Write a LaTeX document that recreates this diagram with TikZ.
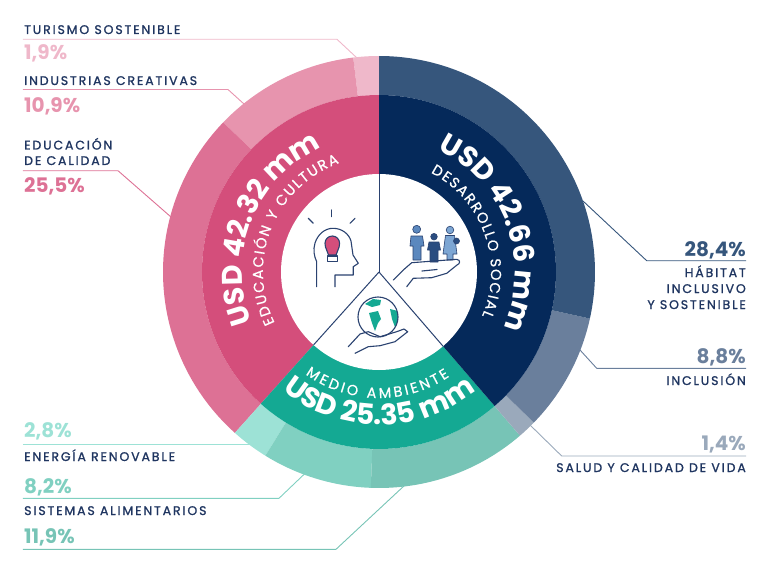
\documentclass[tikz,border=0pt]{standalone}
\usepackage{fontspec}
\setmainfont{Poppins}
\newfontfamily\lblfont[LetterSpace=15,FakeBold=1.2]{Poppins}
\newfontfamily\arcfont[FakeBold=0.6]{Poppins}
\usetikzlibrary{decorations.text}
\definecolor{navytext}{HTML}{1F3560}
\definecolor{pinkmain}{HTML}{D44E7B}
\definecolor{pinkedu}{HTML}{DD7195}
\definecolor{pinkind}{HTML}{E794AE}
\definecolor{pinktur}{HTML}{EFB8CA}
\definecolor{navymain}{HTML}{05295A}
\definecolor{navyhab}{HTML}{36567C}
\definecolor{navyinc}{HTML}{6A7F9C}
\definecolor{navysal}{HTML}{9AA9BB}
\definecolor{tealmain}{HTML}{14A993}
\definecolor{tealene}{HTML}{9DE2D6}
\definecolor{tealsis}{HTML}{80D0C1}
\definecolor{tealali}{HTML}{77C4B6}
\definecolor{iconline}{HTML}{2A4270}
\definecolor{famA}{HTML}{5B88BE}
\definecolor{famB}{HTML}{2A4D80}
\definecolor{famC}{HTML}{7DA6D3}
\begin{document}
\begin{tikzpicture}[x=1pt,y=1pt,
  lead/.style={line width=0.9pt},
  lbl/.style={font=\lblfont\fontsize{12.5}{15}\selectfont, text=navytext, inner sep=0pt},
  pct/.style={font=\bfseries\fontsize{20}{24}\selectfont, inner sep=0pt},
  icon/.style={draw=iconline, line width=1.1pt, line cap=round, line join=round},
  fig/.style={draw=iconline, line width=0.6pt, line join=round}]
\useasboundingbox (-379,-301) rectangle (389,272);
\coordinate (hub) at (0,0);

% leader lines
\coordinate (tur-a) at (-356,232.7);
\coordinate (tur-b) at (-42,232.7);
\coordinate (tur-c) at (-22,214);
\draw[lead, pinktur] (tur-a) -- (tur-b) -- (tur-c);
\coordinate (ind-a) at (-356,182.5);
\coordinate (ind-b) at (-151,182.5);
\coordinate (ind-c) at (-135,168);
\draw[lead, pinkind] (ind-a) -- (ind-b) -- (ind-c);
\coordinate (edu-a) at (-356,101.3);
\coordinate (edu-b) at (-261,101.3);
\coordinate (edu-c) at (-208,55);
\draw[lead, pinkedu] (edu-a) -- (edu-b) -- (edu-c);
\coordinate (ene-a) at (-356,-172);
\coordinate (ene-b) at (-125,-172);
\draw[lead, tealene] (ene-a) -- (ene-b);
\coordinate (sis-a) at (-356,-226.3);
\coordinate (sis-b) at (-100,-226.3);
\coordinate (sis-c) at (-73,-200.5);
\draw[lead, tealsis] (sis-a) -- (sis-b) -- (sis-c);
\coordinate (ali-a) at (-356,-277.3);
\coordinate (ali-b) at (-43,-277.3);
\coordinate (ali-c) at (26,-213);
\draw[lead, tealali] (ali-a) -- (ali-b) -- (ali-c);
\coordinate (hab-a) at (367,11.3);
\coordinate (hab-b) at (267.7,11.3);
\coordinate (hab-c) at (204,71);
\draw[lead, navyhab] (hab-a) -- (hab-b) -- (hab-c);
\coordinate (inc-a) at (367,-96.3);
\coordinate (inc-b) at (217.7,-96.3);
\coordinate (inc-c) at (201,-78);
\draw[lead, navyinc] (inc-a) -- (inc-b) -- (inc-c);
\coordinate (sal-a) at (367,-184);
\coordinate (sal-b) at (182.7,-184);
\coordinate (sal-c) at (150,-152);
\draw[lead, navysal] (sal-a) -- (sal-b) -- (sal-c);

% outer ring
\fill[pinktur] (90:177) arc (90:96.85:177) -- (96.85:216) arc (96.85:90:216) -- cycle;
\fill[pinkind] (96.85:177) arc (96.85:136.17:177) -- (136.17:216) arc (136.17:96.85:216) -- cycle;
\fill[pinkedu] (136.17:177) arc (136.17:228.15:177) -- (228.15:216) arc (228.15:136.17:216) -- cycle;
\fill[tealene] (228.15:177) arc (228.15:238.25:177) -- (238.25:216) arc (238.25:228.15:216) -- cycle;
\fill[tealsis] (238.25:177) arc (238.25:267.83:177) -- (267.83:216) arc (267.83:238.25:216) -- cycle;
\fill[tealali] (267.83:177) arc (267.83:310.75:177) -- (310.75:216) arc (310.75:267.83:216) -- cycle;
\fill[navysal] (310.75:177) arc (310.75:315.8:177) -- (315.8:216) arc (315.8:310.75:216) -- cycle;
\fill[navyinc] (315.8:177) arc (315.8:347.54:177) -- (347.54:216) arc (347.54:315.8:216) -- cycle;
\fill[navyhab] (347.54:177) arc (347.54:450:177) -- (450:216) arc (450:347.54:216) -- cycle;

% inner ring
\fill[pinkmain] (hub) -- (90:177) arc (90:228.1:177) -- cycle;
\fill[tealmain] (hub) -- (228.1:177) arc (228.1:310.8:177) -- cycle;
\fill[navymain] (hub) -- (310.8:177) arc (310.8:450:177) -- cycle;
\fill[white] (hub) circle (98);
\draw[iconline, line width=1pt] (hub) -- (90:98);
\draw[iconline, line width=1pt] (hub) -- (228.1:98);
\draw[iconline, line width=1pt] (hub) -- (310.8:98);

% ring texts
\path[decorate, decoration={text along path, text color=white, text align=center,
  text={|\bfseries\fontsize{28.5}{32}\selectfont|USD 42.32 mm}}] (200:137) arc (200:116:137);
\path[decorate, decoration={text along path, text color=white, text align=fit to path,
  text={|\arcfont\fontsize{14.5}{16}\selectfont|EDUCACIÓN Y CULTURA}}] (206:116) arc (206:110:116);
\path[decorate, decoration={text along path, text color=white, text align=center,
  text={|\bfseries\fontsize{28.5}{32}\selectfont|USD 42.66 mm}}] (62:136) arc (62:-22:136);
\path[decorate, decoration={text along path, text color=white, text align=fit to path,
  text={|\arcfont\fontsize{14.5}{16}\selectfont|DESARROLLO SOCIAL}}] (62.5:112) arc (62.5:-23:112);
\path[decorate, decoration={text along path, text color=white, text align=center,
  text={|\bfseries\fontsize{28.5}{32}\selectfont|USD 25.35 mm}}] (230:153) arc (230:310:153);
\path[decorate, decoration={text along path, text color=white, text align=fit to path,
  text={|\arcfont\fontsize{14.5}{16}\selectfont|MEDIO AMBIENTE}}] (234.3:126) arc (234.3:304:126);

% head icon
\draw[icon] (-70.7,53.7) -- (-65.7,48.7);
\draw[icon] (-47.3,62) -- (-47.3,55.3);
\draw[icon] (-29,48.7) -- (-24,53.7);
\draw[icon] (-62.3,-14.7) -- (-62.3,10.3) .. controls (-65,16) and (-66,22) .. (-64,29)
  .. controls (-61,38) and (-54,43.7) .. (-46,43.7) .. controls (-37,43.7) and (-30,38) .. (-28,31)
  -- (-26,17) -- (-20.7,8.7) -- (-25.7,5.3) -- (-25.7,-3) -- (-44,-3) -- (-44,-14.7);
\draw[icon, fill=pinkmain] (-50.5,17) .. controls (-51,21) and (-54,23) .. (-54,28.7)
  arc (180:0:7.3) .. controls (-39.4,23) and (-42.4,21) .. (-42.9,17) -- cycle;
\draw[icon] (-51.7,16) rectangle (-41.7,10.3);

% family icon
\draw[fig, fill=famA] (37.7,42.7) circle (4);
\draw[fig, fill=famA] (32,36) -- (43.5,36) -- (45,26) -- (42,26) -- (42,12) -- (34,12) -- (34,26) -- (31,26) -- cycle;
\draw[fig, fill=famB] (55,35.3) circle (3.3);
\draw[fig, fill=famB] (50,30) -- (60,30) -- (61.5,22) -- (59,22) -- (59,10) -- (51,10) -- (51,22) -- (48.5,22) -- cycle;
\draw[fig, fill=famC] (71,42) circle (3.8);
\draw[fig, fill=famC] (66.5,36.5) -- (75.5,36.5) -- (78,18) -- (74,18) -- (74,12) -- (68,12) -- (68,18) -- (64,18) -- cycle;
\draw[fig, fill=famB] (77.5,31) circle (3);
\draw[icon] (14.3,-8) -- (24.3,2) -- (32.7,9.3) -- (77.7,12.7) .. controls (82,12) and (81,8) .. (78,7)
  -- (67.7,-1.3) -- (52.7,-5.7) -- (34.3,-6.3) -- (27.7,-14.7);
\draw[icon] (43,1) -- (58,2.5);

% globe icon
\begin{scope}[shift={(-1,-45)}]
\clip (0,0) circle (20);
\fill[tealmain] (-13,13) -- (-5,18) -- (3,17) -- (2,12) -- (-6,10) -- cycle;
\fill[tealmain] (-9,4) -- (0,6) -- (3,-2) -- (0,-6) -- (-3,-14) -- (-6,-6) -- cycle;
\fill[tealmain] (12,8) -- (20,6) -- (22,-4) -- (17,-10) -- (14,-2) -- cycle;
\end{scope}
\draw[icon] (-1,-45) circle (20);
\draw[icon] (-30.7,-74.7) -- (-19,-62) -- (-10.7,-59.7) -- (1,-64.7) -- (17.7,-59.7) -- (25,-57)
  -- (28.7,-59.7) -- (16,-69.7) -- (1,-73.7) -- (-10.7,-74.7) -- (-24,-81.3);

% labels
\node[lbl, anchor=base west] (tur) at (-355,238) {TURISMO SOSTENIBLE};
\node[pct, text=pinktur, anchor=base west] (tur-p) at (-355,212) {1,9\%};
\node[lbl, anchor=base west] (ind) at (-355,187) {INDUSTRIAS CREATIVAS};
\node[pct, text=pinkind, anchor=base west] (ind-p) at (-355,159.3) {10,9\%};
\node[lbl, anchor=base west] (edu) at (-355,122.5) {EDUCACIÓN};
\node[lbl, anchor=base west] (edu-2) at (-355,107) {DE CALIDAD};
\node[pct, text=pinkedu, anchor=base west] (edu-p) at (-355,80) {25,5\%};
\node[pct, text=tealene, anchor=base west] (ene-p) at (-355,-165.3) {2,8\%};
\node[lbl, anchor=base west] (ene) at (-355,-189) {ENERGÍA RENOVABLE};
\node[pct, text=tealsis, anchor=base west] (sis-p) at (-355,-221) {8,2\%};
\node[lbl, anchor=base west] (sis) at (-355,-243) {SISTEMAS ALIMENTARIOS};
\node[pct, text=tealali, anchor=base west] (ali-p) at (-355,-271) {11,9\%};
\node[pct, text=navyhab, anchor=base east] (hab-p) at (367,16) {28,4\%};
\node[lbl, anchor=base east] (hab) at (367,-5) {HÁBITAT};
\node[lbl, anchor=base east] (hab-2) at (367,-21) {INCLUSIVO};
\node[lbl, anchor=base east] (hab-3) at (367,-37) {Y SOSTENIBLE};
\node[pct, text=navyinc, anchor=base east] (inc-p) at (367,-91) {8,8\%};
\node[lbl, anchor=base east] (inc) at (367,-113) {INCLUSIÓN};
\node[pct, text=navysal, anchor=base east] (sal-p) at (367,-178) {1,4\%};
\node[lbl, anchor=base east] (sal) at (367,-200) {SALUD Y CALIDAD DE VIDA};
\end{tikzpicture}
\end{document}
